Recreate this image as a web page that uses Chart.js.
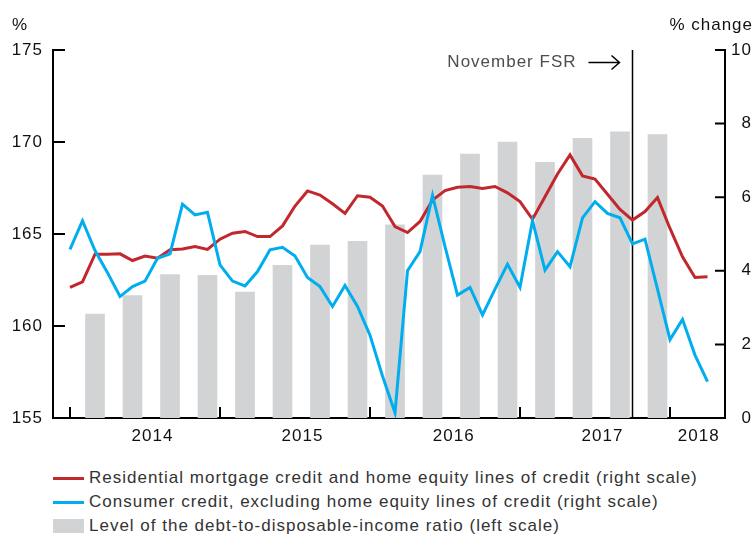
<!DOCTYPE html>
<html>
<head>
<meta charset="utf-8">
<script src="https://cdn.jsdelivr.net/npm/chart.js@4.4.1/dist/chart.umd.min.js"></script>
<style>
  body { margin: 0; background: #fff; font-family: "Liberation Sans", Arial, sans-serif; }
  #wrap { position: relative; width: 754px; height: 536px; }
  #box { position: absolute; left: 0; top: 0; width: 754px; height: 452px; }
  .legend { position: absolute; left: 53px; top: 466px; font-size: 17px; letter-spacing: 1px; color: #333; }
  .row { height: 24px; display: flex; align-items: center; white-space: nowrap; }
  .sw { width: 31px; margin-right: 5px; }
</style>
</head>
<body>
<div id="wrap">
  <div id="box"><canvas id="canvas1"></canvas></div>
  <div class="legend">
    <div class="row"><span class="sw" style="height:3px;background:#c1272d"></span>Residential mortgage credit and home equity lines of credit (right scale)</div>
    <div class="row"><span class="sw" style="height:3px;background:#00aeef"></span>Consumer credit, excluding home equity lines of credit (right scale)</div>
    <div class="row"><span class="sw" style="height:14px;background:#d1d3d4"></span>Level of the debt-to-disposable-income ratio (left scale)</div>
  </div>
</div>
<script>
// monthly, Jan 2014 .. Apr 2018 (index 0 = Jan 2014)
const mortgage = [3.55, 3.70, 4.45, 4.45, 4.46, 4.28, 4.40, 4.34, 4.57, 4.59, 4.66, 4.58,
                  4.86, 5.02, 5.07, 4.93, 4.93, 5.22, 5.76, 6.17, 6.06, 5.82, 5.56, 6.04,
                  6.00, 5.76, 5.20, 5.04, 5.34, 5.92, 6.18, 6.27, 6.29, 6.24, 6.29, 6.12,
                  5.88, 5.40, 6.01, 6.63, 7.15, 6.58, 6.49, 6.08, 5.67, 5.38, 5.61, 5.99,
                  5.15, 4.38, 3.82, 3.84];
const consumer = [4.58, 5.36, 4.55, 3.95, 3.30, 3.57, 3.72, 4.34, 4.46, 5.81, 5.52, 5.59,
                  4.16, 3.72, 3.59, 3.98, 4.57, 4.64, 4.40, 3.82, 3.57, 3.03, 3.60, 3.03,
                  2.25, 1.14, 0.14, 4.00, 4.52, 6.05, 4.66, 3.34, 3.55, 2.80, 3.50, 4.18,
                  3.55, 5.36, 4.02, 4.52, 4.11, 5.44, 5.88, 5.56, 5.44, 4.73, 4.86, 3.50,
                  2.13, 2.68, 1.71, 0.99];
// quarterly ratio, plotted at quarter-end month
const barMonths = [2, 5, 8, 11, 14, 17, 20, 23, 26, 29, 32, 35, 38, 41, 44, 47];
const ratio = [160.65, 161.65, 162.8, 162.75, 161.85, 163.3, 164.4, 164.6,
               165.5, 168.2, 169.35, 170.0, 168.9, 170.2, 170.55, 170.4];
const yearLabels = ['2014', '2015', '2016', '2017', '2018'];
const yearLabelAt = [6.6, 18.6, 30.7, 42.6, 50.3];
const yearStarts = [0, 12, 24, 36, 48];
const fsrMonth = 45; // Oct 2017

const RED = '#c1272d', BLUE = '#00aeef', GRAY = '#d1d3d4';
Chart.defaults.font.family = '"Liberation Sans", Arial, sans-serif';
Chart.defaults.font.size = 17;
Chart.defaults.color = '#111';

const extras = {
  id: 'extras',
  beforeDraw(chart) {
    chart.ctx.letterSpacing = '1px';
  },
  beforeDatasetsDraw(chart) {
    const {ctx, chartArea, scales} = chart;
    const x = scales.x.getPixelForValue(fsrMonth);
    ctx.save();
    ctx.strokeStyle = '#000';
    ctx.lineWidth = 1.5;
    ctx.beginPath();
    ctx.moveTo(x, chartArea.top);
    ctx.lineTo(x, chartArea.bottom);
    ctx.stroke();
    ctx.restore();
  },
  afterDraw(chart) {
    const {ctx, chartArea, scales} = chart;
    const {left, right, top, bottom} = chartArea;
    ctx.save();
    ctx.strokeStyle = '#000';
    ctx.lineWidth = 2;
    ctx.beginPath();
    [155, 160, 165, 170, 175].forEach(v => {
      const y = scales.y.getPixelForValue(v);
      ctx.moveTo(left, y); ctx.lineTo(left + 12, y);
    });
    [0, 2, 4, 6, 8, 10].forEach(v => {
      const y = scales.y1.getPixelForValue(v);
      ctx.moveTo(right, y); ctx.lineTo(right - 10, y);
    });
    yearStarts.forEach(v => {
      const x = scales.x.getPixelForValue(v);
      ctx.moveTo(x, bottom); ctx.lineTo(x, bottom - 11);
    });
    ctx.stroke();

    ctx.font = '17px "Liberation Sans", Arial, sans-serif';
    ctx.fillStyle = '#111';
    ctx.textBaseline = 'alphabetic';
    ctx.textAlign = 'left';
    ctx.fillText('%', 12, 30);
    ctx.textAlign = 'right';
    ctx.fillText('% change', 753, 30);

    // November FSR marker
    const fx = scales.x.getPixelForValue(fsrMonth);
    const ay = 62.5;
    ctx.fillStyle = '#4d4d4d';
    ctx.textBaseline = 'middle';
    ctx.fillText('November FSR', fx - 56, ay);
    ctx.lineWidth = 1.5;
    ctx.beginPath();
    ctx.moveTo(fx - 44, ay); ctx.lineTo(fx - 13, ay);
    ctx.moveTo(fx - 21, ay - 7); ctx.lineTo(fx - 13, ay); ctx.lineTo(fx - 21, ay + 7);
    ctx.stroke();
    ctx.restore();
  }
};

new Chart(document.getElementById('canvas1'), {
  type: 'bar',
  data: {
    datasets: [{
      type: 'line',
      label: 'Consumer credit, excluding home equity lines of credit (right scale)',
      data: consumer.map((v, i) => ({x: i, y: v})),
      yAxisID: 'y1',
      borderColor: BLUE,
      borderWidth: 3,
      pointRadius: 0,
      tension: 0,
      order: 1
    }, {
      type: 'line',
      label: 'Residential mortgage credit and home equity lines of credit (right scale)',
      data: mortgage.map((v, i) => ({x: i, y: v})),
      yAxisID: 'y1',
      borderColor: RED,
      borderWidth: 3,
      pointRadius: 0,
      tension: 0,
      order: 2
    }, {
      label: 'Level of the debt-to-disposable-income ratio (left scale)',
      data: ratio.map((v, i) => ({x: barMonths[i], y: v})),
      yAxisID: 'y',
      backgroundColor: GRAY,
      barThickness: 19,
      base: 155,
      order: 3
    }]
  },
  options: {
    responsive: true,
    maintainAspectRatio: false,
    animation: false,
    layout: { padding: { top: 50, right: 2, left: 0, bottom: 0 } },
    plugins: { legend: { display: false }, tooltip: { enabled: false } },
    scales: {
      x: {
        type: 'linear',
        offset: false,
        min: -1.36,
        max: 52.4,
        grid: { display: false, drawTicks: false, offset: false },
        border: { display: true, color: '#000', width: 2 },
        afterBuildTicks: s => { s.ticks = yearLabelAt.map(v => ({value: v})); },
        afterFit: s => { s.height = 34; },
        ticks: {
          autoSkip: false,
          maxRotation: 0,
          padding: 8,
          callback: (v, i) => yearLabels[i]
        }
      },
      y: {
        position: 'left',
        min: 155,
        max: 175,
        grid: { display: false, drawTicks: false },
        border: { display: true, color: '#000', width: 2 },
        afterFit: s => { s.width = 53; },
        ticks: { stepSize: 5, padding: 10 }
      },
      y1: {
        position: 'right',
        min: 0,
        max: 10,
        grid: { display: false, drawTicks: false },
        border: { display: true, color: '#000', width: 2 },
        afterFit: s => { s.width = 27; },
        ticks: { stepSize: 2, crossAlign: 'far', padding: 4 }
      }
    }
  },
  plugins: [extras]
});
</script>
</body>
</html>
